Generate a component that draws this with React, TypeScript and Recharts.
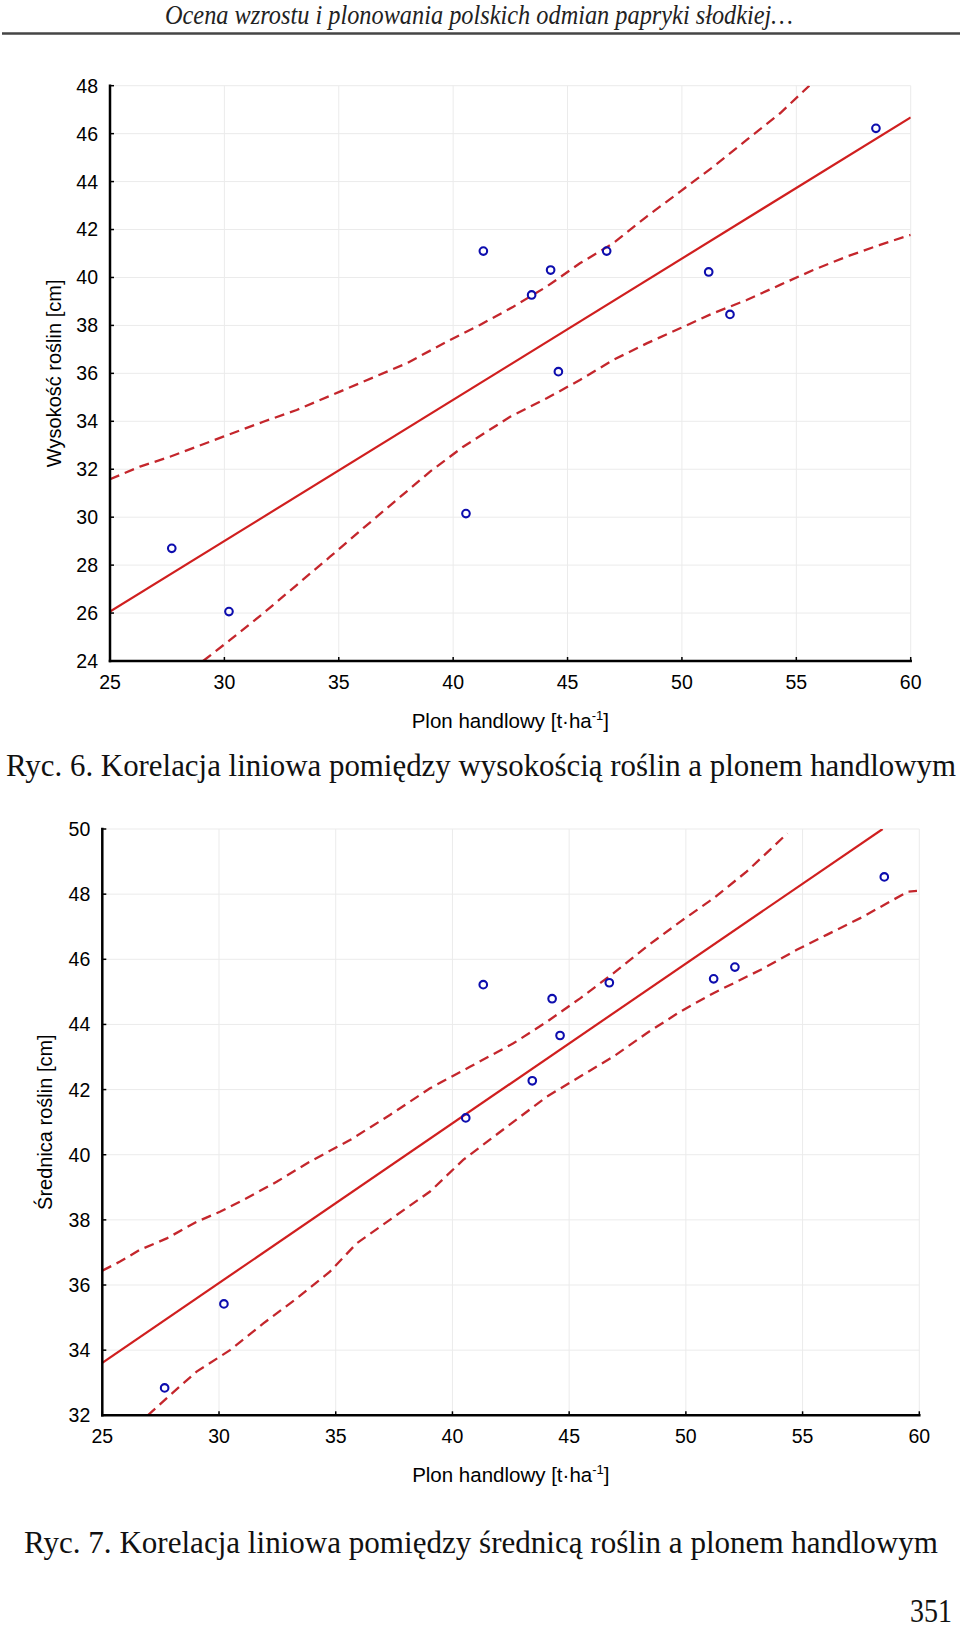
import React from "react";
import {
  ComposedChart,
  Line,
  Scatter,
  XAxis,
  YAxis,
  CartesianGrid,
} from "recharts";

// ---------- Shared axis ----------
const xTicks = [25, 30, 35, 40, 45, 50, 55, 60];
const xLabelMain = "Plon handlowy [t·ha";
const xLabelSup = "-1";

// ---------- Ryc. 6 : Wysokość roślin vs plon ----------
const heightTicks = [24, 26, 28, 30, 32, 34, 36, 38, 40, 42, 44, 46, 48];
const heightLabel = "Wysokość roślin [cm]";
const heightPoints = [
  { x: 27.7, y: 28.7 },
  { x: 30.2, y: 26.06 },
  { x: 40.56, y: 30.15 },
  { x: 41.32, y: 41.1 },
  { x: 43.43, y: 39.27 },
  { x: 44.26, y: 40.31 },
  { x: 44.6, y: 36.07 },
  { x: 46.71, y: 41.1 },
  { x: 51.17, y: 40.23 },
  { x: 52.1, y: 38.46 },
  { x: 58.48, y: 46.22 },
];
const heightFit = [
  { x: 25, y: 26.06 },
  { x: 60, y: 46.68 },
];
const heightUpper = [
  { x: 25, y: 31.58 },
  { x: 26.31, y: 32.11 },
  { x: 27.62, y: 32.52 },
  { x: 28.79, y: 32.94 },
  { x: 29.95, y: 33.36 },
  { x: 31.7, y: 33.98 },
  { x: 33.16, y: 34.47 },
  { x: 35.05, y: 35.24 },
  { x: 37.97, y: 36.42 },
  { x: 39.86, y: 37.39 },
  { x: 41.17, y: 38.02 },
  { x: 42.63, y: 38.78 },
  { x: 44.09, y: 39.62 },
  { x: 45.54, y: 40.59 },
  { x: 47.0, y: 41.43 },
  { x: 48.46, y: 42.54 },
  { x: 49.92, y: 43.58 },
  { x: 51.37, y: 44.62 },
  { x: 52.83, y: 45.74 },
  { x: 54.29, y: 46.85 },
  { x: 55.57, y: 48.0 },
];
const heightLower = [
  { x: 29.07, y: 24.0 },
  { x: 30.25, y: 24.88 },
  { x: 31.7, y: 25.99 },
  { x: 33.16, y: 27.17 },
  { x: 34.62, y: 28.35 },
  { x: 36.07, y: 29.54 },
  { x: 37.53, y: 30.72 },
  { x: 38.99, y: 31.9 },
  { x: 40.44, y: 32.94 },
  { x: 42.49, y: 34.19 },
  { x: 44.09, y: 34.96 },
  { x: 45.54, y: 35.72 },
  { x: 47.0, y: 36.56 },
  { x: 48.46, y: 37.25 },
  { x: 49.92, y: 37.88 },
  { x: 51.37, y: 38.51 },
  { x: 52.83, y: 39.06 },
  { x: 54.29, y: 39.69 },
  { x: 55.74, y: 40.31 },
  { x: 57.2, y: 40.87 },
  { x: 58.66, y: 41.36 },
  { x: 60.0, y: 41.78 },
];

// ---------- Ryc. 7 : Średnica roślin vs plon ----------
const diamTicks = [32, 34, 36, 38, 40, 42, 44, 46, 48, 50];
const diamLabel = "Średnica roślin [cm]";
const diamPoints = [
  { x: 27.67, y: 32.84 },
  { x: 30.21, y: 35.42 },
  { x: 40.57, y: 41.13 },
  { x: 41.32, y: 45.22 },
  { x: 43.42, y: 42.27 },
  { x: 44.27, y: 44.79 },
  { x: 44.61, y: 43.66 },
  { x: 46.72, y: 45.28 },
  { x: 51.19, y: 45.4 },
  { x: 52.1, y: 45.76 },
  { x: 58.5, y: 48.53 },
];
const diamFit = [
  { x: 25, y: 33.61 },
  { x: 58.43, y: 50.0 },
];
const diamUpper = [
  { x: 25, y: 36.44 },
  { x: 25.76, y: 36.72 },
  { x: 26.61, y: 37.08 },
  { x: 27.76, y: 37.43 },
  { x: 29.04, y: 37.94 },
  { x: 30.04, y: 38.25 },
  { x: 31.04, y: 38.61 },
  { x: 32.47, y: 39.17 },
  { x: 33.9, y: 39.79 },
  { x: 35.61, y: 40.45 },
  { x: 37.32, y: 41.22 },
  { x: 39.04, y: 42.04 },
  { x: 40.75, y: 42.7 },
  { x: 42.61, y: 43.42 },
  { x: 44.04, y: 44.08 },
  { x: 45.47, y: 44.8 },
  { x: 46.89, y: 45.57 },
  { x: 48.32, y: 46.39 },
  { x: 49.75, y: 47.15 },
  { x: 51.18, y: 47.87 },
  { x: 52.6, y: 48.69 },
  { x: 53.6, y: 49.36 },
  { x: 54.35, y: 49.87 },
];
const diamLower = [
  { x: 26.95, y: 32.0 },
  { x: 27.9, y: 32.62 },
  { x: 29.04, y: 33.34 },
  { x: 30.47, y: 34.0 },
  { x: 31.9, y: 34.82 },
  { x: 33.33, y: 35.59 },
  { x: 34.75, y: 36.41 },
  { x: 35.9, y: 37.28 },
  { x: 37.61, y: 38.15 },
  { x: 39.04, y: 38.87 },
  { x: 40.46, y: 39.84 },
  { x: 42.61, y: 41.01 },
  { x: 44.04, y: 41.78 },
  { x: 45.47, y: 42.4 },
  { x: 46.89, y: 43.01 },
  { x: 48.32, y: 43.73 },
  { x: 49.75, y: 44.39 },
  { x: 51.18, y: 44.96 },
  { x: 52.03, y: 45.26 },
  { x: 53.32, y: 45.72 },
  { x: 54.75, y: 46.29 },
  { x: 56.03, y: 46.75 },
  { x: 57.6, y: 47.31 },
  { x: 58.74, y: 47.77 },
  { x: 59.53, y: 48.08 },
  { x: 59.9, y: 48.1 },
];

// ---------- Page texts ----------
const headerText = "Ocena wzrostu i plonowania polskich odmian papryki słodkiej…";
const caption6 = "Ryc. 6. Korelacja liniowa pomiędzy wysokością roślin a plonem handlowym";
const caption7 = "Ryc. 7. Korelacja liniowa pomiędzy średnicą roślin a plonem handlowym";
const pageNumber = "351";

// ---------- Styles ----------
const SANS = "'Liberation Sans', Arial, sans-serif";
const SERIF = "'Liberation Serif', 'Times New Roman', serif";
const FIT_RED = "#d01f1f";
const BAND_RED = "#c4262c";
const DOT_BLUE = "#0d0dae";

const tickStyle = { fontFamily: SANS, fontSize: 19.5, fill: "#000" };
const frameLine = { stroke: "#000", strokeWidth: 2.5, strokeLinecap: "square" as const };
const tickLine = { stroke: "#000", strokeWidth: 1.5 };

const OpenCircle = (props: any) => {
  const { cx, cy } = props;
  if (cx == null || cy == null) return null;
  return <circle cx={cx} cy={cy} r={3.8} fill="none" stroke={DOT_BLUE} strokeWidth={2.1} />;
};

const makeXLabel = (offset: number) => (props: any) => {
  const vb = props.viewBox || {};
  const cx = vb.x + vb.width / 2;
  const y = vb.y + offset;
  return (
    <text x={cx} y={y} textAnchor="middle" fontFamily={SANS} fontSize={20.5} fill="#000">
      {xLabelMain}
      <tspan fontSize={13} dy={-8}>{xLabelSup}</tspan>
      <tspan dy={8}>]</tspan>
    </text>
  );
};

const makeYLabel = (text: string, baselineX: number) => (props: any) => {
  const vb = props.viewBox || {};
  const cy = vb.y + vb.height / 2;
  return (
    <text
      x={baselineX}
      y={cy}
      textAnchor="middle"
      fontFamily={SANS}
      fontSize={20}
      fill="#000"
      transform={`rotate(-90, ${baselineX}, ${cy})`}
    >
      {text}
    </text>
  );
};

type PanelProps = {
  width: number;
  height: number;
  margin: { top: number; right: number; bottom: number; left: number };
  yTicks: number[];
  points: { x: number; y: number }[];
  fit: { x: number; y: number }[];
  upper: { x: number; y: number }[];
  lower: { x: number; y: number }[];
  yLabel: string;
  yLabelX: number;
  xLabelOffset: number;
};

const Panel = (p: PanelProps) => {
  const yDomain: [number, number] = [p.yTicks[0], p.yTicks[p.yTicks.length - 1]];
  return (
    <ComposedChart width={p.width} height={p.height} margin={p.margin}>
      <CartesianGrid stroke="#ebebeb" strokeWidth={1} />
      <XAxis
        type="number"
        dataKey="x"
        domain={[25, 60]}
        ticks={xTicks}
        allowDataOverflow
        height={50}
        tick={tickStyle}
        tickSize={-4}
        tickMargin={18}
        axisLine={frameLine}
        tickLine={tickLine}
        label={makeXLabel(p.xLabelOffset)}
      />
      <XAxis
        xAxisId="top"
        orientation="top"
        type="number"
        domain={[25, 60]}
        ticks={xTicks}
        allowDataOverflow
        height={0}
        tick={false}
        tickSize={-4}
        axisLine={frameLine}
        tickLine={tickLine}
      />
      <YAxis
        type="number"
        dataKey="y"
        domain={yDomain}
        ticks={p.yTicks}
        allowDataOverflow
        width={60}
        tick={tickStyle}
        tickSize={-4}
        tickMargin={16}
        axisLine={frameLine}
        tickLine={tickLine}
        label={makeYLabel(p.yLabel, p.yLabelX)}
      />
      <YAxis
        yAxisId="right"
        orientation="right"
        type="number"
        domain={yDomain}
        ticks={p.yTicks}
        allowDataOverflow
        width={0}
        tick={false}
        tickSize={-4}
        axisLine={frameLine}
        tickLine={tickLine}
      />
      <Line
        data={p.upper}
        dataKey="y"
        type="linear"
        stroke={BAND_RED}
        strokeWidth={2.3}
        strokeDasharray="10 6"
        dot={false}
        activeDot={false}
        isAnimationActive={false}
      />
      <Line
        data={p.lower}
        dataKey="y"
        type="linear"
        stroke={BAND_RED}
        strokeWidth={2.3}
        strokeDasharray="10 6"
        dot={false}
        activeDot={false}
        isAnimationActive={false}
      />
      <Line
        data={p.fit}
        dataKey="y"
        type="linear"
        stroke={FIT_RED}
        strokeWidth={2.2}
        dot={false}
        activeDot={false}
        isAnimationActive={false}
      />
      <Scatter data={p.points} dataKey="y" shape={OpenCircle} isAnimationActive={false} />
    </ComposedChart>
  );
};

export default function App() {
  return (
    <div
      style={{
        position: "absolute",
        left: 0,
        top: 0,
        width: 960,
        height: 1632,
        background: "#fff",
        overflow: "hidden",
      }}
    >
      <div style={{ position: "absolute", left: 0, top: 0 }}>
        <Panel
          width={960}
          height={740}
          margin={{ top: 85.7, right: 49.3, bottom: 29, left: 50 }}
          yTicks={heightTicks}
          points={heightPoints}
          fit={heightFit}
          upper={heightUpper}
          lower={heightLower}
          yLabel={heightLabel}
          yLabelX={61.5}
          xLabelOffset={67}
        />
      </div>
      <div style={{ position: "absolute", left: 0, top: 760 }}>
        <Panel
          width={960}
          height={760}
          margin={{ top: 69, right: 40.7, bottom: 54.7, left: 42.3 }}
          yTicks={diamTicks}
          points={diamPoints}
          fit={diamFit}
          upper={diamUpper}
          lower={diamLower}
          yLabel={diamLabel}
          yLabelX={52}
          xLabelOffset={66.5}
        />
      </div>
      <svg
        width={960}
        height={1632}
        style={{ position: "absolute", left: 0, top: 0, pointerEvents: "none" }}
      >
        <text
          x={165}
          y={24}
          fontFamily={SERIF}
          fontStyle="italic"
          fontSize={28}
          fill="#222"
          textLength={628}
          lengthAdjust="spacingAndGlyphs"
        >
          {headerText}
        </text>
        <line x1={2} x2={960} y1={33.5} y2={33.5} stroke="#454545" strokeWidth={2.5} />
        <text
          x={6}
          y={776}
          fontFamily={SERIF}
          fontSize={31}
          fill="#111"
          textLength={950}
          lengthAdjust="spacingAndGlyphs"
        >
          {caption6}
        </text>
        <text
          x={24}
          y={1553}
          fontFamily={SERIF}
          fontSize={31}
          fill="#111"
          textLength={914}
          lengthAdjust="spacingAndGlyphs"
        >
          {caption7}
        </text>
        <text
          x={910}
          y={1622}
          fontFamily={SERIF}
          fontSize={34}
          fill="#111"
          textLength={42}
          lengthAdjust="spacingAndGlyphs"
        >
          {pageNumber}
        </text>
      </svg>
    </div>
  );
}
